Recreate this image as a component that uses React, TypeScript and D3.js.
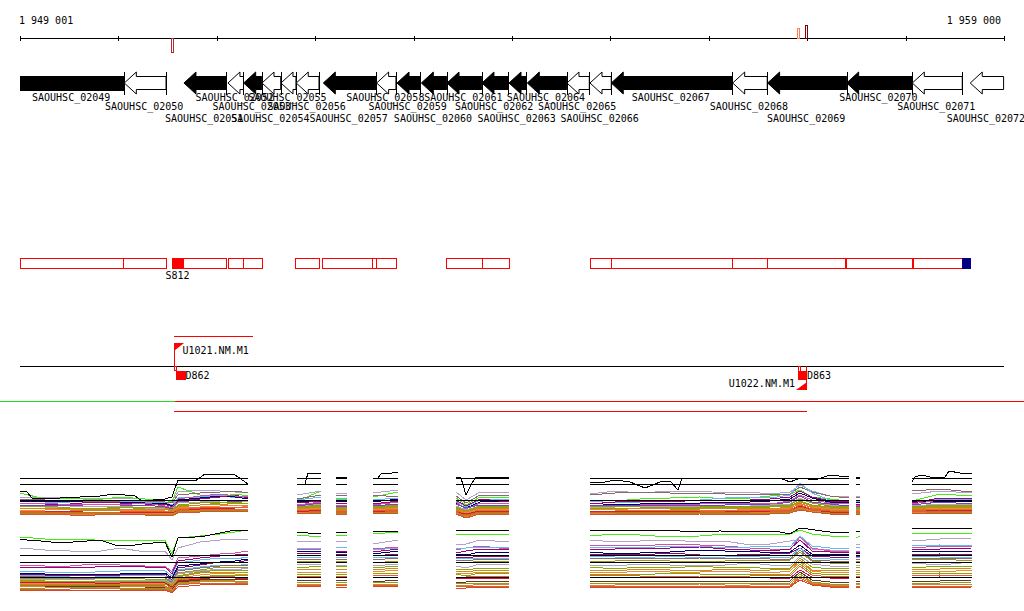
import React, { useEffect, useRef } from 'react';
import * as d3 from 'd3';

const width = 1024;
const height = 611;

const regionStart = 1949001;
const regionEnd = 1959000;
const tickValues = [1949001, 1950001, 1951001, 1952001, 1953001, 1954001, 1955001, 1956001, 1957001, 1958001, 1959000];

// genes, all on the reverse strand
const geneNames = ['02049', '02050', '02051', '02052', '02053', '02054', '02055', '02056', '02057', '02058', '02059', '02060', '02061', '02062', '02063', '02064', '02065', '02066', '02067', '02068', '02069', '02070', '02071', '02072'];
const geneStarts = [1949001, 1950061, 1950667, 1951114, 1951274, 1951460, 1951653, 1951808, 1952083, 1952625, 1952832, 1953079, 1953340, 1953695, 1953970, 1954156, 1954559, 1954793, 1955009, 1956243, 1956598, 1957401, 1958068, 1958657];
const geneEnds = [1950061, 1950485, 1951099, 1951272, 1951457, 1951650, 1951805, 1952039, 1952618, 1952821, 1953068, 1953337, 1953692, 1953963, 1954146, 1954556, 1954786, 1955009, 1956239, 1956594, 1957401, 1958068, 1958576, 1958996];
const geneEssential = [1, 0, 1, 0, 1, 0, 0, 0, 1, 0, 1, 1, 1, 1, 1, 1, 0, 0, 1, 0, 1, 1, 0, 0];

// transcript segments in the red band
const segmentStarts = [1949001, 1950051, 1950545, 1951114, 1951272, 1951798, 1952073, 1952578, 1952618, 1953333, 1953692, 1954793, 1955003, 1956239, 1956594, 1957391, 1958076];
const segmentEnds = [1950051, 1950485, 1951099, 1951272, 1951457, 1952044, 1952578, 1952618, 1952821, 1953692, 1953966, 1955003, 1956239, 1956594, 1957381, 1958068, 1958570];
const promoterStarts = [1950545];
const promoterEnds = [1950664];
const terminatorStarts = [1958570];
const terminatorEnds = [1958662];

// spot marks above and below the scale line
const markPositions = [1950545, 1956905, 1956990];
const markSizes = [-14, 10, 13];
const markColors = ['#a83038', '#ff7f50', '#800000'];

// expression windows
const windowStarts = [1949001, 1951816, 1952212, 1952588, 1953431, 1954793, 1957495, 1958065];
const windowEnds = [1951318, 1952060, 1952324, 1952842, 1953970, 1957424, 1957536, 1958674];
const windowSampleCounts = [13, 2, 2, 2, 4, 13, 2, 3];
const samplePositions = [
  1949001, 1949255, 1949509, 1949763, 1950017, 1950271, 1950474, 1950545, 1950606, 1950830, 1951033, 1951186, 1951318,
  1951816, 1952060,
  1952212, 1952324,
  1952588, 1952842,
  1953431, 1953533, 1953675, 1953970,
  1954793, 1955047, 1955301, 1955606, 1955910, 1956165, 1956419, 1956622, 1956825, 1956927, 1957049, 1957231, 1957424,
  1957495, 1957536,
  1958065, 1958349, 1958674,
];
const leadCounts = [15, 4, 2, 5, 7, 16, 2, 8];
const leadPositions = [
  1949001, 1949072, 1949123, 1949407, 1949814, 1949966, 1950170, 1950241, 1950474, 1950545, 1950606, 1950779, 1950881, 1951186, 1951318,
  1951816, 1951897, 1951927, 1952060,
  1952212, 1952324,
  1952588, 1952639, 1952669, 1952781, 1952842,
  1953431, 1953482, 1953533, 1953584, 1953624, 1953827, 1953970,
  1954793, 1954894, 1955047, 1955199, 1955352, 1955504, 1955606, 1955687, 1955728, 1956114, 1956723, 1956825, 1956927, 1957079, 1957231, 1957424,
  1957495, 1957536,
  1958065, 1958095, 1958166, 1958248, 1958400, 1958441, 1958552, 1958674,
];

const leadUpper = [24, 23, 17, 17, 19, 21, 19, 14, 16, 18, 35, 34, 41, 40, 31, 31, 31, 42, 42, 38, 38, 36, 37, 41, 42, 43, 38, 37, 20, 30, 37, 38, 38, 33, 32, 35, 33, 27, 33, 34, 25, 37, 37, 37, 33, 37, 35, 40, 38, 38, 38, 33, 38, 40, 38, 38, 44, 42, 41];
const leadLower = [53, 52, 52, 49, 52, 47, 47, 48, 50, 35, 54, 55, 56, 62, 61, 60, 60, 59, 59, 60, 60, 61, 61, 61, 61, 61, 62, 62, 62, 62, 62, 62, 62, 62, 62, 61, 62, 62, 61, 62, 62, 60, 61, 60, 58, 64, 62, 60, 60, 61, 61, 64, 64, 64, 64, 64, 64, 64, 64];
const referenceUpper = [37, 31, 15];
const referenceLower = [37, 30, 15];

const upperColors = ['#b3a2c7', '#44ee11', '#8a6a6a', '#66bbee', '#000066', '#a0007a', '#cc55aa', '#7744bb', '#aaaaaa', '#999922', '#88aa00', '#cc8822', '#ee8833', '#dd7722', '#ee5533', '#cc2233', '#cc6633', '#e08030', '#b8860b', '#cc5533'];
const lowerColors = ['#b3a2c7', '#44ee11', '#cc55aa', '#a0007a', '#66bbee', '#000066', '#8b0a6e', '#66bbee', '#8a6a6a', '#999922', '#b3a2c7', '#88aa00', '#cc8822', '#ee8833', '#88aa00', '#ee5533', '#cc1144', '#5a4020', '#999922', '#e08030', '#cc6633', '#dd4422'];

const upperTraces = [
  [18, 18, 17, 16, 17, 16, 15, 14, 23, 25, 24, 23, 23, 20, 24, 22, 21, 22, 25, 23, 15, 23, 22, 21, 24, 22, 24, 24, 22, 23, 21, 23, 30, 24, 19, 18, 19, 19, 21, 24, 22],
  [22, 16, 17, 15, 18, 16, 15, 13, 28, 20, 18, 21, 19, 14, 24, 17, 16, 18, 23, 17, 10, 18, 17, 15, 14, 16, 17, 18, 16, 17, 19, 21, 25, 18, 16, 14, 15, 15, 14, 21, 19],
  [16, 15, 15, 13, 14, 14, 13, 12, 20, 22, 23, 24, 22, 16, 20, 20, 19, 20, 18, 19, 12, 20, 19, 20, 22, 23, 22, 22, 21, 21, 20, 21, 28, 23, 19, 17, 18, 18, 24, 26, 23],
  [14, 13, 13, 15, 14, 13, 12, 10, 17, 18, 20, 17, 18, 15, 18, 16, 15, 15, 17, 14, 8, 15, 16, 14, 12, 13, 15, 15, 17, 18, 17, 20, 32, 22, 15, 14, 14, 14, 13, 16, 15],
  [13, 14, 14, 12, 13, 12, 12, 9, 15, 17, 19, 18, 16, 13, 15, 14, 13, 13, 16, 12, 7, 13, 14, 12, 10, 11, 12, 12, 13, 13, 14, 16, 22, 17, 13, 12, 13, 13, 14, 14, 13],
  [12, 11, 11, 13, 12, 11, 11, 8, 14, 16, 18, 20, 17, 12, 14, 11, 12, 11, 14, 15, 9, 16, 13, 11, 13, 14, 13, 15, 14, 15, 16, 18, 24, 18, 14, 13, 11, 11, 12, 17, 16],
  [11, 12, 10, 11, 10, 12, 9, 7, 16, 19, 21, 19, 19, 10, 13, 10, 10, 10, 13, 13, 6, 12, 11, 10, 9, 10, 11, 11, 12, 12, 11, 14, 20, 15, 12, 11, 10, 10, 11, 15, 14],
  [10, 9, 10, 8, 9, 10, 8, 6, 13, 15, 15, 13, 14, 9, 12, 9, 9, 9, 11, 11, 7, 10, 10, 9, 10, 9, 10, 10, 10, 11, 10, 13, 19, 13, 11, 9, 9, 9, 10, 13, 11],
  [9, 8, 8, 9, 9, 7, 7, 5, 12, 13, 14, 15, 13, 8, 11, 8, 8, 8, 10, 9, 5, 9, 9, 8, 8, 9, 9, 9, 8, 9, 10, 11, 17, 12, 10, 8, 8, 8, 9, 11, 10],
  [8, 9, 7, 7, 7, 8, 7, 5, 10, 12, 13, 11, 12, 8, 10, 8, 8, 8, 10, 8, 4, 9, 9, 8, 9, 8, 8, 8, 9, 8, 9, 10, 16, 12, 9, 8, 8, 8, 8, 10, 9],
  [7, 6, 7, 6, 8, 6, 6, 4, 9, 10, 12, 13, 11, 7, 9, 7, 7, 7, 9, 7, 3, 8, 8, 7, 7, 6, 7, 7, 8, 7, 8, 9, 14, 10, 8, 7, 7, 7, 7, 9, 8],
  [6, 7, 5, 6, 5, 6, 6, 4, 8, 10, 11, 9, 10, 6, 8, 6, 6, 6, 8, 6, 3, 7, 7, 6, 5, 7, 6, 6, 7, 7, 6, 8, 13, 9, 7, 6, 6, 6, 6, 8, 7],
  [5, 5, 6, 4, 5, 5, 4, 3, 7, 8, 9, 10, 8, 5, 7, 5, 5, 5, 7, 5, 2, 6, 5, 5, 6, 4, 5, 5, 4, 6, 5, 7, 11, 8, 6, 5, 5, 5, 5, 7, 6],
  [4, 4, 4, 5, 4, 3, 4, 3, 6, 8, 8, 7, 8, 4, 6, 5, 4, 4, 6, 5, 1, 5, 5, 4, 4, 5, 4, 5, 5, 5, 4, 6, 12, 7, 5, 4, 5, 5, 5, 6, 5],
  [4, 3, 3, 3, 3, 4, 3, 2, 5, 7, 8, 8, 7, 4, 5, 4, 4, 4, 5, 4, 0, 4, 4, 4, 3, 4, 3, 4, 4, 4, 5, 5, 10, 6, 4, 4, 4, 4, 4, 5, 5],
  [3, 3, 4, 2, 3, 3, 3, 2, 4, 6, 7, 6, 6, 3, 5, 3, 3, 3, 4, 3, 1, 4, 3, 3, 4, 3, 4, 3, 3, 4, 4, 4, 9, 5, 3, 3, 3, 3, 3, 5, 4],
  [3, 2, 2, 3, 2, 2, 2, 1, 4, 5, 6, 6, 5, 2, 4, 3, 2, 2, 4, 3, -1, 3, 3, 3, 3, 2, 3, 3, 3, 3, 3, 4, 8, 5, 4, 3, 3, 3, 3, 4, 3],
  [2, 2, 1, 1, 2, 2, 2, 1, 3, 5, 5, 4, 5, 2, 3, 2, 2, 2, 3, 2, -2, 2, 2, 2, 2, 2, 2, 2, 2, 2, 3, 3, 7, 4, 2, 2, 2, 2, 2, 3, 3],
  [1, 2, 1, 2, 1, 1, 1, 0, 3, 4, 5, 5, 4, 1, 3, 2, 1, 2, 3, 1, -1, 2, 2, 1, 1, 2, 2, 1, 2, 2, 2, 3, 6, 3, 2, 2, 2, 2, 1, 3, 2],
  [1, 1, 0, 0, 1, 0, 0, -1, 2, 3, 4, 3, 4, 1, 2, 1, 1, 1, 2, 1, -3, 1, 1, 1, 1, 1, 0, 1, 1, 1, 1, 2, 5, 3, 1, 1, 1, 1, 1, 2, 2],
];

const lowerTraces = [
  [44, 42, 41, 40, 44, 40, 41, 32, 44, 50, 52, 53, 53, 50, 51, 50, 51, 48, 52, 47, 48, 52, 50, 52, 50, 51, 52, 50, 51, 47, 48, 51, 52, 43, 42, 41, 48, 48, 51, 53, 54],
  [55, 53, 53, 52, 51, 52, 52, 38, 54, 56, 58, 60, 62, 57, 55, 56, 57, 58, 60, 58, 57, 58, 58, 56, 58, 57, 55, 56, 58, 57, 58, 58, 62, 58, 56, 55, 54, 56, 59, 59, 58],
  [27, 26, 26, 28, 27, 26, 26, 20, 34, 36, 38, 39, 41, 43, 42, 45, 44, 43, 45, 42, 44, 46, 43, 46, 47, 46, 48, 47, 46, 44, 43, 42, 55, 44, 41, 40, 41, 41, 44, 46, 45],
  [25, 25, 24, 25, 26, 25, 25, 18, 31, 34, 36, 37, 38, 40, 41, 41, 40, 40, 43, 39, 41, 43, 42, 42, 43, 44, 44, 45, 43, 42, 41, 43, 52, 41, 40, 39, 40, 40, 42, 43, 44],
  [21, 20, 19, 20, 21, 22, 21, 16, 29, 32, 34, 33, 35, 44, 44, 44, 45, 42, 44, 43, 44, 45, 45, 45, 45, 44, 46, 46, 44, 45, 46, 45, 56, 46, 44, 44, 45, 45, 46, 47, 46],
  [19, 18, 18, 17, 18, 19, 19, 14, 26, 28, 30, 31, 33, 41, 40, 40, 39, 38, 41, 38, 37, 40, 39, 40, 38, 39, 40, 42, 41, 41, 39, 40, 47, 38, 38, 37, 39, 39, 40, 41, 41],
  [18, 17, 16, 17, 17, 18, 18, 12, 24, 27, 30, 29, 32, 39, 38, 37, 38, 36, 38, 35, 34, 36, 35, 38, 38, 37, 39, 37, 36, 38, 38, 39, 44, 36, 35, 35, 36, 36, 37, 38, 37],
  [17, 16, 15, 15, 16, 17, 16, 11, 22, 25, 27, 26, 28, 34, 35, 35, 34, 34, 35, 34, 33, 34, 34, 36, 35, 34, 36, 34, 35, 36, 34, 35, 44, 34, 33, 32, 35, 35, 36, 35, 35],
  [16, 15, 14, 14, 15, 15, 14, 10, 21, 24, 26, 27, 26, 32, 33, 33, 32, 32, 34, 32, 31, 33, 33, 33, 34, 34, 33, 34, 33, 34, 33, 33, 42, 32, 31, 30, 33, 33, 34, 34, 33],
  [14, 14, 13, 13, 14, 13, 13, 9, 19, 22, 25, 24, 25, 30, 31, 31, 30, 29, 31, 30, 29, 31, 30, 30, 31, 32, 31, 30, 31, 32, 31, 32, 40, 31, 29, 28, 31, 31, 32, 33, 31],
  [13, 12, 13, 12, 11, 12, 12, 8, 18, 21, 23, 22, 24, 28, 27, 27, 27, 26, 28, 26, 24, 28, 27, 27, 26, 28, 27, 26, 27, 29, 27, 26, 36, 28, 26, 26, 27, 27, 29, 27, 30],
  [12, 11, 11, 10, 11, 10, 11, 7, 16, 20, 22, 21, 22, 24, 26, 25, 26, 24, 26, 23, 22, 24, 23, 25, 23, 25, 24, 26, 24, 25, 23, 24, 34, 25, 23, 24, 25, 25, 24, 26, 26],
  [11, 10, 9, 10, 10, 9, 10, 6, 15, 19, 20, 19, 20, 22, 23, 22, 23, 22, 24, 21, 20, 22, 21, 22, 21, 23, 22, 21, 23, 22, 22, 23, 32, 22, 21, 22, 22, 22, 22, 23, 24],
  [9, 9, 9, 8, 8, 9, 9, 5, 14, 17, 19, 18, 18, 20, 19, 20, 20, 20, 22, 19, 18, 20, 20, 20, 19, 21, 20, 20, 21, 20, 19, 21, 30, 21, 19, 20, 20, 20, 21, 20, 22],
  [8, 8, 7, 8, 8, 7, 8, 4, 13, 15, 17, 17, 17, 18, 18, 18, 18, 18, 19, 18, 16, 19, 18, 18, 18, 17, 19, 18, 17, 18, 18, 18, 28, 19, 17, 18, 18, 18, 18, 19, 18],
  [7, 7, 7, 6, 7, 7, 6, 3, 12, 14, 16, 15, 15, 16, 16, 16, 15, 16, 17, 15, 15, 16, 15, 16, 17, 16, 15, 16, 16, 16, 17, 16, 26, 17, 15, 16, 16, 16, 16, 17, 16],
  [10, 10, 10, 9, 9, 10, 9, 5, 11, 13, 15, 14, 14, 14, 15, 15, 14, 14, 15, 14, 13, 14, 14, 15, 15, 14, 15, 15, 14, 15, 14, 14, 22, 15, 14, 14, 15, 15, 14, 15, 14],
  [5, 6, 6, 5, 6, 5, 5, 2, 10, 12, 13, 12, 13, 11, 12, 12, 12, 10, 12, 10, 10, 11, 10, 11, 10, 11, 11, 10, 11, 11, 10, 11, 20, 12, 10, 10, 11, 11, 10, 11, 12],
  [4, 4, 5, 5, 4, 4, 4, 1, 9, 11, 12, 11, 11, 9, 10, 10, 9, 9, 10, 9, 8, 9, 9, 9, 9, 8, 9, 9, 8, 9, 9, 9, 18, 10, 8, 8, 9, 9, 8, 9, 10],
  [6, 5, 4, 4, 5, 6, 5, 2, 8, 10, 11, 10, 10, 8, 8, 8, 8, 7, 8, 7, 6, 8, 7, 7, 7, 8, 7, 8, 7, 7, 8, 7, 16, 9, 7, 7, 8, 8, 7, 8, 8],
  [3, 3, 3, 4, 3, 3, 3, 0, 7, 9, 9, 9, 9, 7, 6, 6, 7, 6, 7, 6, 5, 6, 6, 6, 6, 6, 6, 5, 6, 6, 6, 6, 14, 8, 6, 6, 6, 6, 6, 6, 6],
  [2, 2, 1, 2, 2, 1, 2, -1, 5, 7, 8, 8, 8, 6, 5, 5, 5, 5, 6, 4, 4, 5, 5, 5, 5, 4, 5, 5, 5, 5, 4, 5, 12, 7, 5, 5, 5, 5, 5, 4, 5],
];

const App: React.FC = () => {
  const svgRef = useRef<SVGSVGElement>(null);

  useEffect(() => {
    if (!svgRef.current) return;

    const svg = d3.select(svgRef.current);
    svg.selectAll('*').remove();

    const x = d3.scaleLinear().domain([regionStart, regionEnd]).range([20, 1004]);
    const yUpper = d3.scaleLinear().domain([0, 45]).range([515, 470]);
    const yLower = d3.scaleLinear().domain([0, 64]).range([592, 528]);

    const addText = (label: string, tx: number, ty: number, anchor = 'start') =>
      svg.append('text')
        .attr('x', tx)
        .attr('y', ty)
        .attr('text-anchor', anchor)
        .attr('fill', '#000')
        .style('font-family', '"DejaVu Sans Mono", monospace')
        .style('font-size', '10px')
        .text(label);

    const addLine = (x1: number, y1: number, x2: number, y2: number, color: string) =>
      svg.append('line')
        .attr('x1', x1)
        .attr('y1', y1)
        .attr('x2', x2)
        .attr('y2', y2)
        .attr('stroke', color)
        .attr('shape-rendering', 'crispEdges');

    const addRect = (x1: number, x2: number, y1: number, y2: number, fill: string, stroke: string) =>
      svg.append('rect')
        .attr('x', x1)
        .attr('y', y1)
        .attr('width', x2 - x1)
        .attr('height', y2 - y1)
        .attr('fill', fill)
        .attr('stroke', stroke)
        .attr('shape-rendering', 'crispEdges');

    // Scale line
    addText('1 949 001', 19, 24);
    addText('1 959 000', 1001, 24, 'end');
    addLine(x(regionStart), 38.5, x(regionEnd), 38.5, '#000');
    tickValues.forEach(t => addLine(Math.round(x(t)) + 0.5, 36, Math.round(x(t)) + 0.5, 41, '#000'));

    markPositions.forEach((p, i) => {
      const size = markSizes[i];
      addRect(Math.round(x(p)) - 0.5, Math.round(x(p)) + 1.5, size < 0 ? 38.5 : 38.5 - size, size < 0 ? 38.5 - size : 38.5, '#fff', markColors[i]);
    });

    // Genes
    const headLength = 12;
    const midY = 83;
    geneNames.forEach((name, i) => {
      const x1 = x(geneStarts[i]);
      const x2 = x(geneEnds[i]);
      const fill = geneEssential[i] ? '#000' : '#fff';
      if (i === 0) {
        addRect(x1, x2, 76, 90, '#000', '#000');
      } else {
        const hx = x1 + headLength;
        const points: [number, number][] = [[x1, midY], [hx, 72], [hx, 76.5], [x2, 76.5], [x2, 89.5], [hx, 89.5], [hx, 94]];
        svg.append('path')
          .attr('d', d3.line()(points) + 'Z')
          .attr('fill', fill)
          .attr('stroke', '#000');
      }
      if (i < geneNames.length - 1) addLine(Math.round(x2) + 0.5, 72, Math.round(x2) + 0.5, 95, '#000');
      const row = i % 3;
      addText(`SAOUHSC_${name}`, (x1 + x2) / 2 - 1, [101, 110, 122][row], 'middle');
    });

    // Transcript band
    segmentStarts.forEach((s, i) => {
      addRect(Math.round(x(s)) + 0.5, Math.round(x(segmentEnds[i])) + 0.5, 258.5, 268.5, '#fff', '#ff0000');
    });
    promoterStarts.forEach((s, i) => {
      addRect(x(s), x(promoterEnds[i]), 258, 269, '#ff0000', 'none');
    });
    terminatorStarts.forEach((s, i) => {
      addRect(x(s), x(terminatorEnds[i]), 258, 269, '#000080', 'none');
    });
    addText('S812', 177.5, 279, 'middle');

    // Promoters and terminators around the base line
    addLine(174, 336.5, 253, 336.5, '#ff0000');
    addLine(20, 366.5, 1004, 366.5, '#000');

    addLine(174.5, 343, 174.5, 371, '#ff0000');
    svg.append('path').attr('d', 'M174,343H184L174,351Z').attr('fill', '#ff0000');
    addRect(174.5, 176.5, 366.5, 370.5, 'none', '#ff0000');
    addText('U1021.NM.M1', 182.5, 354);
    addRect(176, 186, 371, 380, '#ff0000', 'none');
    addText('D862', 185.5, 379);

    addRect(798.5, 800.5, 366.5, 371, 'none', '#ff0000');
    addRect(798, 807, 371, 380, '#ff0000', 'none');
    addLine(806.5, 366, 806.5, 390, '#ff0000');
    svg.append('path').attr('d', 'M796,390H807V382Z').attr('fill', '#ff0000');
    addText('D863', 807, 379);
    addText('U1022.NM.M1', 795, 387, 'end');

    addLine(0, 401.5, 175, 401.5, '#22dd22');
    addLine(175, 401.5, 1024, 401.5, '#ff0000');
    addLine(174, 411.5, 807, 411.5, '#ff0000');

    // Expression windows
    const drawWindows = (
      traces: number[][],
      colors: string[],
      lead: number[],
      reference: number[],
      y: d3.ScaleLinear<number, number>,
    ) => {
      const line = d3.line<[number, number]>().x(d => x(d[0])).y(d => y(d[1]));
      const drawPath = (positions: number[], values: number[], color: string) => {
        svg.append('path')
          .attr('d', line(positions.map((p, i) => [p, values[i]] as [number, number])))
          .attr('fill', 'none')
          .attr('stroke', color)
          .attr('shape-rendering', 'crispEdges');
      };

      let sampleOffset = 0;
      let leadOffset = 0;
      windowStarts.forEach((start, w) => {
        const positions = samplePositions.slice(sampleOffset, sampleOffset + windowSampleCounts[w]);
        traces.forEach((trace, t) => {
          const values = trace.slice(sampleOffset, sampleOffset + windowSampleCounts[w]);
          drawPath(positions, values, colors[t]);
        });
        reference.forEach(r => addLine(x(start), Math.round(y(r)) + 0.5, x(windowEnds[w]), Math.round(y(r)) + 0.5, '#000'));
        drawPath(
          leadPositions.slice(leadOffset, leadOffset + leadCounts[w]),
          lead.slice(leadOffset, leadOffset + leadCounts[w]),
          '#000',
        );
        sampleOffset += windowSampleCounts[w];
        leadOffset += leadCounts[w];
      });
    };

    drawWindows(upperTraces, upperColors, leadUpper, referenceUpper, yUpper);
    drawWindows(lowerTraces, lowerColors, leadLower, referenceLower, yLower);
  }, []);

  return (
    <svg
      ref={svgRef}
      width={width}
      height={height}
      style={{ position: 'absolute', left: 0, top: 0, background: '#fff' }}
    />
  );
};

export default App;
